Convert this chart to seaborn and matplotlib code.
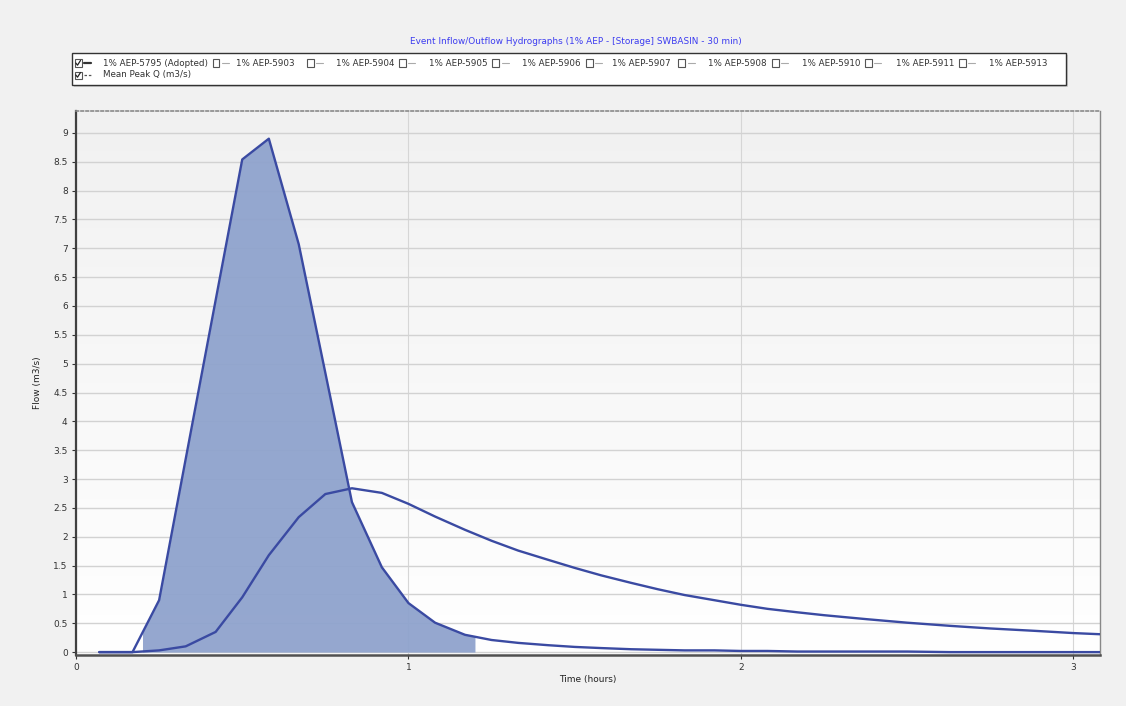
import numpy as np
import pandas as pd
import matplotlib
matplotlib.use("Agg")
import matplotlib.pyplot as plt
from matplotlib.patches import Rectangle
from matplotlib.lines import Line2D
from matplotlib.ticker import FuncFormatter, MultipleLocator
import seaborn as sns

# Hydrograph ordinates (hours, m3/s)
time_h = [0.07, 0.17, 0.25, 0.33, 0.42, 0.50, 0.58, 0.67, 0.75, 0.83, 0.92, 1.00,
          1.08, 1.17, 1.25, 1.33, 1.42, 1.50, 1.58, 1.67, 1.75, 1.83, 1.92, 2.00,
          2.08, 2.17, 2.25, 2.38, 2.50, 2.63, 2.75, 2.88, 3.00, 3.08]
inflow = [0.0, 0.0, 0.90, 3.35, 6.10, 8.54, 8.90, 7.07, 4.84, 2.60, 1.47, 0.85,
          0.51, 0.30, 0.21, 0.16, 0.12, 0.09, 0.07, 0.05, 0.04, 0.03, 0.03, 0.02,
          0.02, 0.01, 0.01, 0.01, 0.01, 0.0, 0.0, 0.0, 0.0, 0.0]
outflow = [0.0, 0.0, 0.03, 0.10, 0.35, 0.95, 1.68, 2.34, 2.74, 2.84, 2.76, 2.57,
           2.35, 2.12, 1.93, 1.76, 1.60, 1.46, 1.33, 1.20, 1.09, 0.99, 0.90, 0.82,
           0.75, 0.69, 0.64, 0.57, 0.51, 0.455, 0.41, 0.37, 0.33, 0.31]

# Shaded storm window on the inflow hydrograph
fill_start = 0.20
fill_end = 1.20

title = "Event Inflow/Outflow Hydrographs (1% AEP - [Storage] SWBASIN - 30 min)"
legend_row1 = ["1% AEP-5795 (Adopted)", "1% AEP-5903", "1% AEP-5904", "1% AEP-5905",
               "1% AEP-5906", "1% AEP-5907", "1% AEP-5908", "1% AEP-5910",
               "1% AEP-5911", "1% AEP-5913"]
legend_row2 = "Mean Peak Q (m3/s)"
x_label = "Time (hours)"
y_label = "Flow (m3/s)"

df = pd.DataFrame({"time": time_h, "inflow": inflow, "outflow": outflow})

sns.set_theme(style="white")
plt.rcParams["font.family"] = ["DejaVu Sans"]

line_col = "#3a4aa2"
fill_col = "#8fa3cd"

fig = plt.figure(figsize=(11.26, 7.06), dpi=100, facecolor="#f1f1f1")
W, H = 1126, 706
ax = fig.add_axes([76 / W, 1 - 655 / H, (1100 - 76) / W, (655 - 111) / H])
ax.set_facecolor("#fbfbfb")

# soft vertical shading of the plotting area
grad = np.linspace(0.0, 1.0, 256).reshape(-1, 1)
ax.imshow(grad, extent=[0, 1, 0, 1], transform=ax.transAxes, aspect="auto",
          cmap=matplotlib.colors.LinearSegmentedColormap.from_list("bg", ["#ffffff", "#f1f1f1"]),
          origin="lower", zorder=0)

ax.set_xlim(0, 3.08)
ax.set_ylim(-0.05, 9.38)

# shaded area under the inflow hydrograph
xf = np.linspace(fill_start, fill_end, 400)
yf = np.interp(xf, df["time"], df["inflow"])
ax.fill_between(xf, 0, yf, color=fill_col, alpha=0.95, lw=0, zorder=2)

sns.lineplot(data=df, x="time", y="inflow", ax=ax, color=line_col, lw=1.7, zorder=4)
sns.lineplot(data=df, x="time", y="outflow", ax=ax, color=line_col, lw=1.7, zorder=4)

# grid
ax.yaxis.set_major_locator(MultipleLocator(0.5))
ax.xaxis.set_major_locator(MultipleLocator(1))
fmt = FuncFormatter(lambda v, p: f"{v:g}")
ax.yaxis.set_major_formatter(fmt)
ax.xaxis.set_major_formatter(fmt)
ax.grid(True, axis="y", color="#d2d2d2", lw=1.0, zorder=1)
ax.grid(True, axis="x", color="#d6d6d6", lw=0.8, zorder=1)
ax.set_axisbelow(True)

ax.tick_params(axis="both", labelsize=6.5, colors="#333333", length=3, width=0.8,
               direction="out", left=True, bottom=True, pad=3)
ax.set_xlabel(x_label, fontsize=6.5, color="#222222", labelpad=2)
ax.set_ylabel(y_label, fontsize=6.5, color="#222222", labelpad=8)

for side, sp in ax.spines.items():
    sp.set_visible(True)
ax.spines["left"].set_color("#404040")
ax.spines["left"].set_linewidth(1.6)
ax.spines["bottom"].set_color("#505050")
ax.spines["bottom"].set_linewidth(1.8)
ax.spines["right"].set_color("#888888")
ax.spines["right"].set_linewidth(1.0)
ax.spines["top"].set_color("#8a8a8a")
ax.spines["top"].set_linewidth(1.2)
ax.spines["top"].set_linestyle((0, (1.5, 1.5)))

# title
fig.text(576 / W, 1 - 42 / H, title, ha="center", va="center",
         fontsize=6.4, color="#3c3cf0")

# legend panel
def fx(px):
    return px / W

def fy(py):
    return 1 - py / H

box = Rectangle((fx(72), fy(85)), fx(1066) - fx(72), fy(53) - fy(85),
                transform=fig.transFigure, facecolor="white", edgecolor="#333333",
                lw=1.0, zorder=5)
fig.patches.append(box)
shadow = Rectangle((fx(74), fy(87)), fx(1068) - fx(74), fy(55) - fy(87),
                   transform=fig.transFigure, facecolor="#cfcfcf", edgecolor="none",
                   zorder=4)
fig.patches.append(shadow)

box_x = [78, 216, 310, 402, 496, 589, 682, 775, 868, 962]
text_x = [103, 236, 336, 429, 522, 612, 708, 802, 896, 989]
row1_y, row2_y = 63, 75
cb = 7


def checkbox(px, py, checked):
    r = Rectangle((fx(px - cb / 2), fy(py + cb / 2)), cb / W, cb / H,
                  transform=fig.transFigure, facecolor="white", edgecolor="#555555",
                  lw=0.8, zorder=6)
    fig.patches.append(r)
    if checked:
        fig.lines.append(Line2D([fx(px - 2.2), fx(px - 0.5), fx(px + 2.5)],
                                [fy(py), fy(py + 2.2), fy(py - 2.5)],
                                transform=fig.transFigure, color="#222222", lw=0.9, zorder=7))


for i, name in enumerate(legend_row1):
    checked = i == 0
    checkbox(box_x[i], row1_y, checked)
    seg_col = "#333333" if checked else "#aaaaaa"
    seg_lw = 1.6 if checked else 0.8
    fig.lines.append(Line2D([fx(box_x[i] + 6), fx(box_x[i] + 13)], [fy(row1_y), fy(row1_y)],
                            transform=fig.transFigure, color=seg_col, lw=seg_lw, zorder=6))
    fig.text(fx(text_x[i]), fy(row1_y), name, ha="left", va="center",
             fontsize=6.3, color="#333333", zorder=7)

checkbox(box_x[0], row2_y, True)
fig.lines.append(Line2D([fx(box_x[0] + 6), fx(box_x[0] + 13)], [fy(row2_y), fy(row2_y)],
                        transform=fig.transFigure, color="#555555", lw=0.9,
                        ls=(0, (2, 1.5)), zorder=6))
fig.text(fx(text_x[0]), fy(row2_y), legend_row2, ha="left", va="center",
         fontsize=6.3, color="#333333", zorder=7)

fig.savefig("out.png", dpi=100, facecolor=fig.get_facecolor())
